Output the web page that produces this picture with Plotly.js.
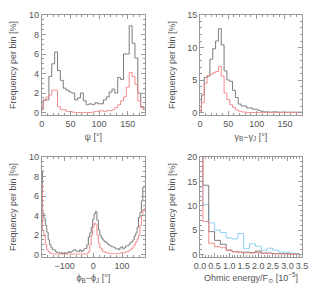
<!DOCTYPE html>
<html><head><meta charset="utf-8">
<script src="https://cdn.plot.ly/plotly-3.0.1.min.js"></script>
<style>html,body{margin:0;padding:0;background:#fff}#c{width:315px;height:284px}</style>
</head><body><div id="c"></div>
<script>
// Panel 1: psi (bin centres 0..180 step 5)
const psiX = [0,5,10,15,20,25,30,35,40,45,50,55,60,65,70,75,80,85,90,95,100,105,110,115,120,125,130,135,140,145,150,155,160,165,170,175,180];
const psiGrey = [0.3,1.3,1.3,3.7,5.0,6.2,4.3,3.3,2.5,2.3,2.1,2.0,1.3,1.5,2.0,1.2,0.8,0.9,0.8,1.0,0.9,0.9,1.3,1.6,2.1,2.4,2.0,3.6,3.4,6.0,6.0,8.9,7.1,5.6,2.0,0.6,0.3];
const psiRed  = [0.3,1.2,1.6,1.8,2.3,2.3,0.6,0.3,0.3,0.1,0.1,0.05,0,0,0,0,0,0,0.05,0.1,0.15,0.2,0.1,0.2,0.2,0.3,0.5,0.8,1.2,1.6,2.6,4.1,3.7,2.9,1.2,0.5,0.3];

// Panel 2: gamma_B - gamma_J
const gamX = psiX;
const gamGrey = [0.3,2.7,5.4,5.6,8.2,9.8,11.0,12.9,10.4,6.4,5.0,4.8,3.4,2.3,1.3,1.0,1.0,0.7,0.7,0.5,0.5,0.3,0.2,0.1,0.1,0.05,0.1,0.1,0.05,0.05,0.05,0.05,0.05,0.05,0.05,0.05,0.05];
const gamRed  = [0.1,1.5,4.5,5.7,5.9,6.1,6.3,7.1,5.6,3.0,2.0,1.2,0.8,0.4,0.2,0.1,0.05,0,0,0,0,0,0,0,0,0,0,0,0,0,0,0,0,0,0,0,0];

// Panel 3: phi_B - phi_J (-180..180 step 5)
const phiX = [-180,-175,-170,-165,-160,-155,-150,-145,-140,-135,-130,-125,-120,-115,-110,-105,-100,-95,-90,-85,-80,-75,-70,-65,-60,-55,-50,-45,-40,-35,-30,-25,-20,-15,-10,-5,
              0,5,10,15,20,25,30,35,40,45,50,55,60,65,70,75,80,85,90,95,100,105,110,115,120,125,130,135,140,145,150,155,160,165,170,175,180];
const phiGrey = [8.6,4.3,3.7,3.0,2.3,1.5,1.0,0.7,0.5,0.5,0.3,0.2,0.2,0.1,0.2,0.1,0.2,0.1,0.2,0.3,0.2,0.3,0.4,0.5,0.4,0.3,0.3,0.5,0.3,0.4,0.6,0.6,1.0,1.8,2.2,2.8,
                 3.6,4.2,4.4,3.5,2.5,2.0,1.7,1.5,1.3,1.3,1.1,1.0,0.9,0.8,0.8,0.7,0.6,0.6,0.5,0.7,0.8,0.6,0.7,0.9,0.9,1.0,1.2,1.3,1.5,1.9,2.2,2.8,3.8,4.3,5.5,6.9,7.0];
const phiRed  = [7.3,2.5,2.0,1.0,0.5,0.3,0.2,0.1,0.1,0.05,0.05,0.05,0.05,0.05,0.05,0.05,0.05,0.05,0.05,0.05,0.05,0.05,0.05,0.05,0.05,0.05,0.05,0.05,0.05,0.05,0.05,0.05,0.1,0.3,1.0,2.0,
                 2.8,3.2,3.1,2.0,1.2,0.7,0.5,0.3,0.3,0.2,0.2,0.1,0.1,0.1,0.1,0.1,0.1,0.1,0.1,0.15,0.2,0.2,0.2,0.3,0.3,0.4,0.5,0.6,0.8,1.0,1.3,1.6,2.0,3.0,4.0,4.6,4.7];

// Panel 4: Ohmic energy / F_sun (bin centres 0..3.4 step 0.2)
const ohmX = [0,0.2,0.4,0.6,0.8,1.0,1.2,1.4,1.6,1.8,2.0,2.2,2.4,2.6,2.8,3.0,3.2,3.4];
const ohmGrey = [24,14.2,4.7,2.9,2.1,0.9,0.6,0.5,0.5,0.4,0.7,0.3,0.3,0.2,0.2,0.15,0.1,0.1];
const ohmRed  = [30,6.8,2.3,1.6,1.4,0.9,0.55,0.4,0.35,0.3,0.4,0.2,0.2,0.15,0.1,0.1,0.05,0.05];
const ohmBlue = [13.8,10.2,6.5,5.0,4.5,3.4,3.2,4.3,1.2,2.2,1.7,0.9,1.3,0.9,0.5,0.5,0.25,0.25];

const GREY = '#7a7a7a', RED = '#f28a8a', BLUE = '#8ccff5';
function tr(x, y, c, xa, ya) {
  return {x: x, y: y, type: 'scatter', mode: 'lines', line: {shape: 'hvh', color: c, width: 1}, xaxis: xa, yaxis: ya, hoverinfo: 'skip'};
}
const data = [
  tr(psiX, psiGrey, GREY, 'x', 'y'), tr(psiX, psiRed, RED, 'x', 'y'),
  tr(gamX, gamGrey, GREY, 'x2', 'y2'), tr(gamX, gamRed, RED, 'x2', 'y2'),
  tr(phiX, phiGrey, GREY, 'x3', 'y3'), tr(phiX, phiRed, RED, 'x3', 'y3'),
  tr(ohmX, ohmBlue, BLUE, 'x4', 'y4'), tr(ohmX, ohmGrey, GREY, 'x4', 'y4'), tr(ohmX, ohmRed, RED, 'x4', 'y4')
];
const F = {family: 'Liberation Sans, DejaVu Sans, sans-serif', size: 9, color: '#555'};
function ax(dom, range, dtick, mdtick, title, anchor, st) {
  return {domain: dom, range: range, dtick: dtick, tick0: 0, anchor: anchor,
    showline: true, linecolor: '#999', linewidth: 1, mirror: 'ticks', ticks: 'inside', ticklen: 4, tickcolor: '#999',
    showgrid: false, zeroline: false, tickfont: F, automargin: false,
    minor: {ticks: 'inside', dtick: mdtick, ticklen: 2, tickcolor: '#999', showgrid: false},
    title: {text: title, font: F, standoff: st}};
}
const XL = [0.1324, 0.4603], XR = [0.6349, 0.9587], YT = [0.5951, 0.9472], YB = [0.0951, 0.4472];
const layout = {
  width: 315, height: 284, margin: {l: 0, r: 0, t: 0, b: 0}, showlegend: false,
  paper_bgcolor: '#fff', plot_bgcolor: '#fff',
  xaxis:  ax(XL, [0, 180], 50, 10, 'ψ [°]', 'y', 5),
  yaxis:  ax(YT, [-0.25, 10], 2, 0.5, 'Frequency per bin [%]', 'x', 10),
  xaxis2: ax(XR, [0, 180], 50, 10, 'γ<sub>B</sub>−γ<sub>J</sub> [°]', 'y2', 5),
  yaxis2: ax(YT, [-0.38, 15], 5, 1, 'Frequency per bin [%]', 'x2', 10),
  xaxis3: ax(XL, [-180, 180], 100, 20, 'ϕ<sub>B</sub>−ϕ<sub>J</sub> [°]', 'y3', 5),
  yaxis3: ax(YB, [-0.25, 10], 2, 0.5, 'Frequency per bin [%]', 'x3', 10),
  xaxis4: ax(XR, [0, 3.5], 0.5, 0.1, 'Ohmic energy/F<sub>⊙</sub> [10<sup>−5</sup>]', 'y4', 5),
  yaxis4: ax(YB, [-0.5, 20], 5, 1, 'Frequency per bin [%]', 'x4', 10)
};
layout.xaxis4.tickformat = '.1f';
Plotly.newPlot('c', data, layout, {staticPlot: true, displayModeBar: false});
</script></body></html>
